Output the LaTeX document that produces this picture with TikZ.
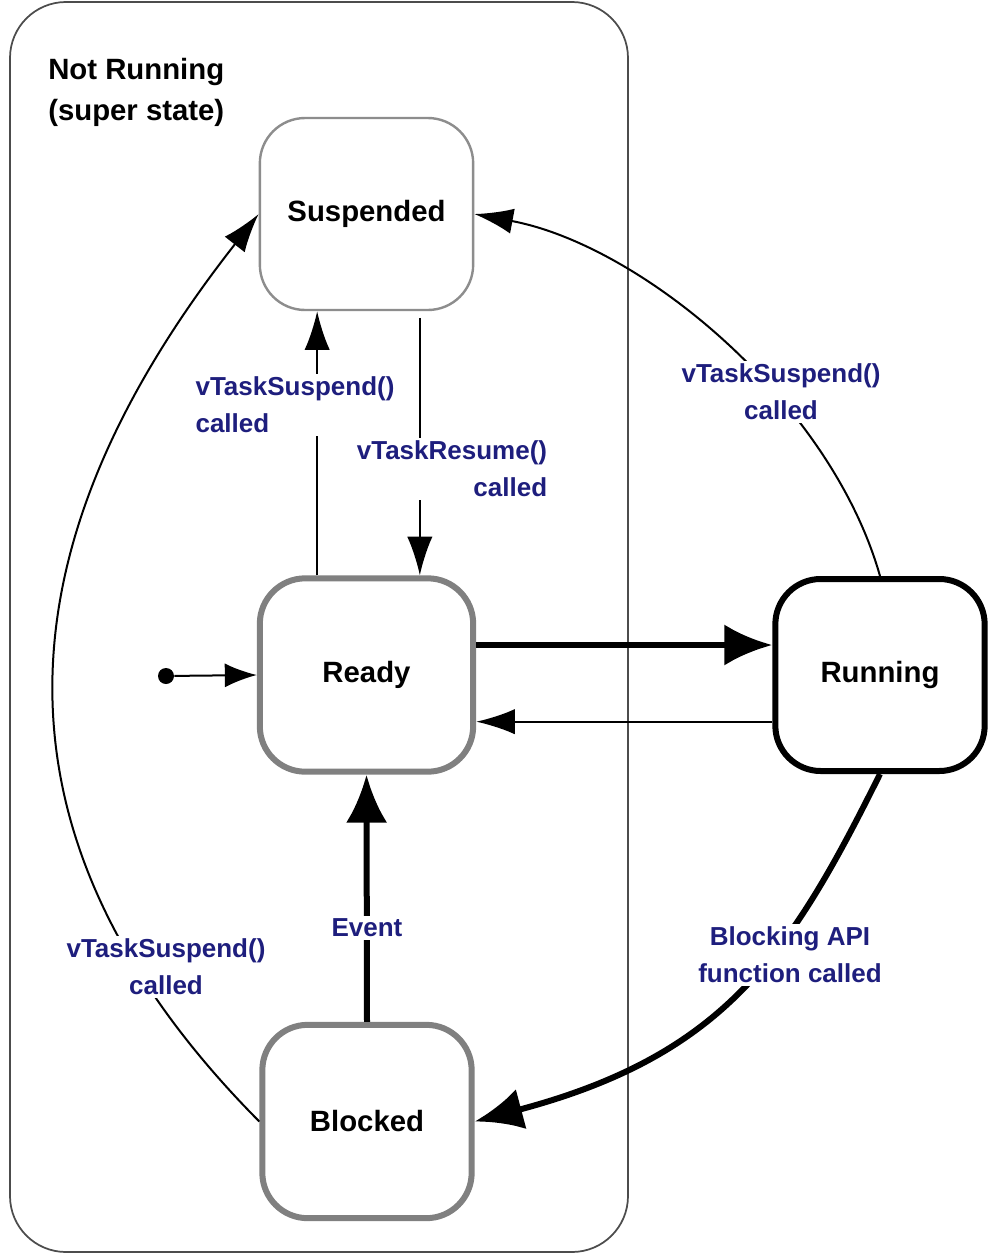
\documentclass[tikz,border=0pt]{standalone}
\usepackage{fontspec}
\setmainfont{Liberation Sans}
\usetikzlibrary{arrows.meta}
\definecolor{lbl}{RGB}{30,30,125}
\definecolor{stgray}{RGB}{128,128,128}
\begin{document}
\begin{tikzpicture}[x=0.75pt,y=-0.75pt,
  statebox/.style={draw,rounded corners=34pt,fill=white,align=center,
    font=\fontsize{22}{26}\selectfont\bfseries},
  inner/.style={statebox,draw=stgray,line width=4.5pt},
  lightbox/.style={statebox,draw=stgray!90,line width=1.8pt},
  runbox/.style={statebox,draw=black,line width=4.5pt},
  lbltext/.style={fill=white,inner sep=2pt,text=lbl,
    font=\fontsize{19.5}{27.5}\selectfont\bfseries},
  thin/.style={line width=1.5pt,-{Latex[length=29pt,width=19pt]}},
  heavy/.style={line width=4.5pt,-{Latex[length=36pt,width=31pt]}}]
\useasboundingbox (0,0) rectangle (989,1257);
\fill[white] (0,0) rectangle (989,1257);

% super state frame
\draw[line width=1.3pt,draw=black!70,rounded corners=42pt] (10,2) rectangle (628,1252);
\node[anchor=north west,inner sep=0pt,align=left,
  font=\fontsize{22}{30.5}\selectfont\bfseries] (title) at (48,58)
  {Not Running\\(super state)};

% states
\node[lightbox,minimum width=160pt,minimum height=144pt] (susp) at (366.5,214) {Suspended};
\node[inner,minimum width=160pt,minimum height=145pt] (ready) at (366.5,675) {Ready};
\node[runbox,minimum width=157pt,minimum height=144pt] (run) at (880,675) {Running};
\node[inner,minimum width=157pt,minimum height=145pt] (blk) at (367,1121.5) {Blocked};

% initial pseudo state
\node[circle,fill=black,inner sep=0pt,minimum size=12pt] (init) at (166,676) {};
\draw[line width=1.5pt,-{Latex[length=24pt,width=18pt]}] (init) -- (ready.west);

% ready <-> running
\draw[heavy] ([yshift=22.5pt]ready.east) -- ([yshift=22.5pt]run.west);
\draw[thin] ([yshift=-35pt]run.west) -- ([yshift=-35pt]ready.west -| ready.east);

% ready <-> suspended
\draw[thin] ([xshift=-37pt]ready.north) -- ([xshift=-37pt]susp.south);
\node[lbltext,align=left] (l1) at (295,405) {vTaskSuspend()\\called};
\draw[thin] ([xshift=40pt,yshift=-5pt]susp.south) -- ([xshift=40pt]ready.north);
\node[lbltext,align=right] (l2) at (452,469) {vTaskResume()\\called};

% running -> suspended
\draw[thin] (run.north) .. controls (830,400) and (640,245) .. (susp.east);
\node[lbltext,align=center] (l3) at (781,392) {vTaskSuspend()\\called};

% blocked -> suspended
\draw[thin] (blk.west) .. controls (-38,822) and (13,527) .. (susp.west);
\node[lbltext,align=center] (l4) at (166,967) {vTaskSuspend()\\called};

% blocked -> ready
\draw[heavy] (blk.north) -- (ready.south);
\node[lbltext] (l5) at (367,928) {Event};

% running -> blocked
\draw[heavy] (run.south) .. controls (790,955) and (725,1055) .. (blk.east);
\node[lbltext,align=center] (l6) at (790,955) {Blocking API\\function called};
\end{tikzpicture}
\end{document}
